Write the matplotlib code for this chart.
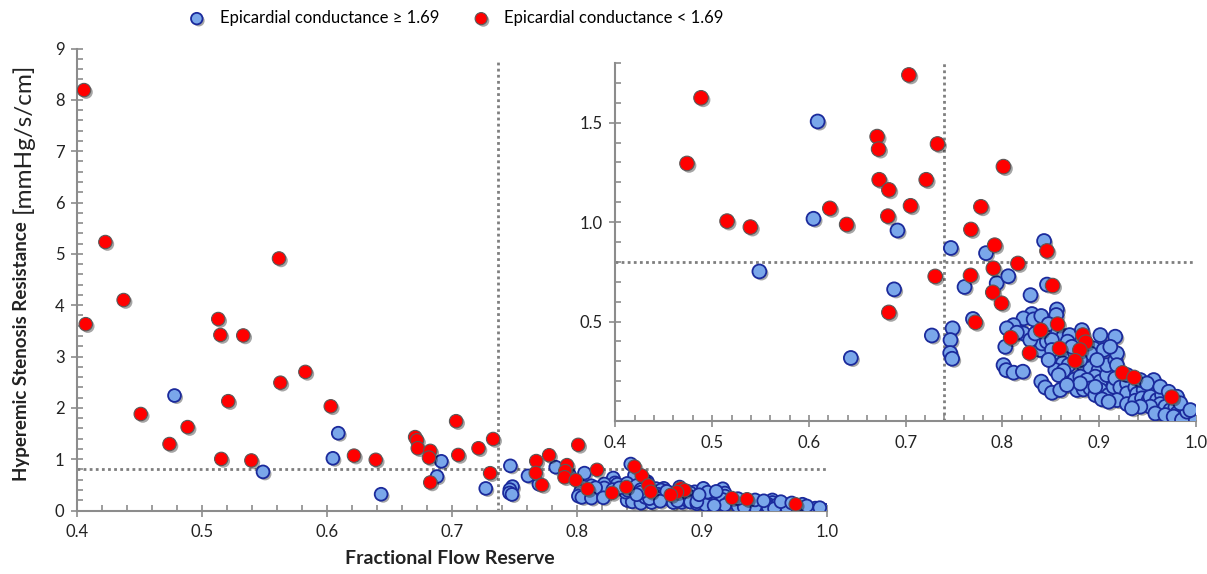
import matplotlib
matplotlib.use('Agg')
import matplotlib.pyplot as plt
import matplotlib.patheffects as pe
from matplotlib.ticker import MultipleLocator, FormatStrFormatter

plt.rcParams['font.family'] = ['Lato', 'DejaVu Sans']

# FFR / HSR values
blue_ffr = [0.478, 0.5488, 0.6047, 0.609, 0.6433, 0.688, 0.6915, 0.727, 0.7467, 0.7484,
            0.7463, 0.746, 0.748, 0.7608, 0.7695, 0.783, 0.794, 0.806, 0.829, 0.846,
            0.843,
            0.8563, 0.8556, 0.8304, 0.8218, 0.8322, 0.8401, 0.8115, 0.8046, 0.8218, 0.8149,
            0.8029, 0.8011, 0.8039, 0.8115, 0.8211, 0.8401, 0.8442, 0.8511, 0.8597, 0.8390,
            0.8408, 0.8459, 0.8477, 0.8570, 0.8632, 0.8694, 0.8673, 0.8597, 0.8649, 0.8625,
            0.8683, 0.8546, 0.8632, 0.8580, 0.8746, 0.8770, 0.8839, 0.8821, 0.8880, 0.8942,
            0.8908, 0.9011, 0.9166, 0.8839, 0.8908, 0.8994, 0.8959, 0.9011, 0.9080, 0.9080,
            0.9166, 0.9183, 0.9183, 0.9011, 0.9097, 0.9149, 0.9166, 0.9218, 0.9287, 0.9287,
            0.9183, 0.9287, 0.9373, 0.9390, 0.9373, 0.9459, 0.9442, 0.9511, 0.9563, 0.9563,
            0.9528, 0.9597, 0.9649, 0.9631, 0.9683, 0.9735, 0.9787, 0.9804, 0.9855, 0.9890,
            0.9942, 0.9983, 0.9528, 0.9425, 0.9338, 0.9580, 0.9683, 0.9769, 0.9855, 0.9907,
            0.8804, 0.8873, 0.8908, 0.8959, 0.9028, 0.9097, 0.8959, 0.8804, 0.8752, 0.8718,
            0.8287, 0.8339, 0.8511, 0.8511, 0.8477, 0.9045, 0.9114, 0.8977, 0.9287, 0.9425,
            0.9494, 0.9631, 0.9718, 0.9804, 0.9838, 0.9942, 0.8804, 0.8666]
blue_hsr = [2.24, 0.752, 1.017, 1.506, 0.317, 0.662, 0.958, 0.430, 0.870, 0.466,
            0.407, 0.342, 0.313, 0.674, 0.513, 0.844, 0.693, 0.728, 0.633, 0.686,
            0.905,
            0.561, 0.533, 0.538, 0.516, 0.511, 0.528, 0.482, 0.466, 0.440, 0.444,
            0.373, 0.281, 0.256, 0.243, 0.248, 0.198, 0.169, 0.142, 0.156, 0.357,
            0.390, 0.399, 0.487, 0.440, 0.427, 0.432, 0.399, 0.340, 0.315, 0.290,
            0.281, 0.256, 0.253, 0.231, 0.209, 0.156, 0.159, 0.457, 0.377, 0.365,
            0.340, 0.432, 0.424, 0.281, 0.265, 0.256, 0.223, 0.198, 0.231, 0.281,
            0.307, 0.340, 0.281, 0.156, 0.131, 0.172, 0.214, 0.169, 0.189, 0.139,
            0.105, 0.085, 0.169, 0.136, 0.102, 0.156, 0.114, 0.105, 0.206, 0.156,
            0.122, 0.105, 0.131, 0.085, 0.072, 0.055, 0.069, 0.038, 0.030, 0.022,
            0.013, 0.005, 0.072, 0.072, 0.064, 0.038, 0.030, 0.022, 0.005, 0.047,
            0.223, 0.206, 0.164, 0.131, 0.109, 0.097, 0.172, 0.307, 0.340, 0.373,
            0.407, 0.440, 0.407, 0.357, 0.307, 0.357, 0.373, 0.307, 0.231, 0.206,
            0.189, 0.172, 0.147, 0.122, 0.089, 0.055, 0.189, 0.181]

red_ffr = [0.4056, 0.407, 0.4227, 0.4373, 0.451, 0.474, 0.4885, 0.513, 0.5147, 0.5154,
           0.521, 0.533, 0.5395, 0.5616, 0.5627, 0.5827, 0.603, 0.6216, 0.639, 0.6705,
           0.672, 0.6726, 0.6826, 0.6816, 0.6826, 0.7033, 0.705, 0.7212, 0.7329, 0.7305,
           0.7674, 0.767, 0.772, 0.7777, 0.801, 0.792, 0.816, 0.7906, 0.790, 0.799,
           0.8518, 0.846, 0.8085, 0.8395, 0.828, 0.857, 0.859, 0.883, 0.886, 0.880,
           0.875, 0.924, 0.936, 0.975]
red_hsr = [8.19, 3.63, 5.23, 4.10, 1.88, 1.295, 1.625, 3.73, 3.42, 1.005,
           2.13, 3.41, 0.975, 4.91, 2.49, 2.70, 2.03, 1.069, 0.988, 1.43,
           1.367, 1.213, 1.162, 1.030, 0.546, 1.740, 1.082, 1.213, 1.393, 0.727,
           0.963, 0.732, 0.496, 1.077, 1.279, 0.884, 0.792, 0.768, 0.647, 0.592,
           0.681, 0.855, 0.419, 0.457, 0.342, 0.487, 0.365, 0.432, 0.396, 0.357,
           0.303, 0.242, 0.219, 0.12]

ffr_cut = 0.74
hsr_cut = 0.8

W, H = 1207, 574
fig = plt.figure(figsize=(W / 100, H / 100), dpi=100)
ax = fig.add_axes([77 / W, 63.5 / H, 750 / W, 462 / H])
inset = fig.add_axes([615.4 / W, 153 / H, 580.6 / W, 358 / H])
inset.patch.set_alpha(0)

shadow = [pe.SimplePatchShadow(offset=(1.5, -1.5), shadow_rgbFace='k', alpha=0.35), pe.Normal()]
axis_grey = '#8c8c8c'
dots = (0, (1, 1.2))


def style_axes(a):
    for side in ['top', 'right']:
        a.spines[side].set_visible(False)
    for side in ['left', 'bottom']:
        a.spines[side].set_color(axis_grey)
        a.spines[side].set_linewidth(1.5)
    a.tick_params(which='major', direction='inout', length=8, width=1.2, color=axis_grey,
                  labelsize=12, labelcolor='#222222')
    a.tick_params(which='minor', direction='in', length=4, width=1.2, color=axis_grey)


def draw_points(a, size):
    b = a.scatter(blue_ffr, blue_hsr, s=size, color='#7aa7ea', edgecolors='#1b2a9c',
                  linewidths=1.3, zorder=3, label='Epicardial conductance \u2265 1.69')
    b.set_path_effects(shadow)
    r = a.scatter(red_ffr, red_hsr, s=size * 1.1, color='#ff0000', edgecolors='#5a5a5a',
                  linewidths=0.8, zorder=4, label='Epicardial conductance < 1.69')
    r.set_path_effects(shadow)
    return b, r


# main axes
style_axes(ax)
blue_pts, red_pts = draw_points(ax, 85)
ax.set_xlim(0.4, 1.0)
ax.set_ylim(0, 9)
ax.xaxis.set_major_locator(MultipleLocator(0.1))
ax.xaxis.set_minor_locator(MultipleLocator(0.02))
ax.yaxis.set_major_locator(MultipleLocator(1))
ax.yaxis.set_minor_locator(MultipleLocator(0.2))
ax.xaxis.set_major_formatter(FormatStrFormatter('%.1f'))
ax.tick_params(axis='x', pad=6)
ax.tick_params(axis='y', pad=5)
ax.axhline(hsr_cut, color='#7f7f7f', ls=dots, lw=2, zorder=2)
ax.plot([0.737, 0.737], [0, 8.8], color='#7f7f7f', ls=dots, lw=2, zorder=2)

# zoomed inset
style_axes(inset)
draw_points(inset, 100)
inset.set_xlim(0.4, 1.0)
inset.set_ylim(0, 1.8)
inset.xaxis.set_major_locator(MultipleLocator(0.1))
inset.xaxis.set_minor_locator(MultipleLocator(0.02))
inset.set_yticks([0.5, 1.0, 1.5])
inset.yaxis.set_minor_locator(MultipleLocator(0.1))
inset.xaxis.set_major_formatter(FormatStrFormatter('%.1f'))
inset.yaxis.set_major_formatter(FormatStrFormatter('%.1f'))
inset.tick_params(axis='x', pad=6)
inset.tick_params(axis='y', pad=5)
inset.axhline(hsr_cut, color='#7f7f7f', ls=dots, lw=2, zorder=2)
inset.axvline(ffr_cut, color='#7f7f7f', ls=dots, lw=2, zorder=2)

# axis titles
fig.text(450 / W, 1 - 559 / H, 'Fractional Flow Reserve', ha='center', va='center',
         fontsize=14, fontweight='bold', color='#222222')
ylab = fig.text(22 / W, 1 - 481 / H, 'Hyperemic Stenosis Resistance', rotation=90,
                rotation_mode='anchor', ha='left', va='center', fontsize=13.5,
                fontweight='bold', color='#222222')
fig.canvas.draw()
bb = ylab.get_window_extent().transformed(fig.transFigure.inverted())
fig.text(22 / W, bb.y1 + 8 / H, '[mmHg/s/cm]', rotation=90, rotation_mode='anchor',
         ha='left', va='center', fontsize=17.5, color='#222222')

fig.legend(handles=[blue_pts, red_pts], loc='center', bbox_to_anchor=(452 / W, 1 - 18 / H),
           ncol=2, frameon=False, fontsize=12, columnspacing=1.5, handletextpad=0.4,
           markerscale=0.9)

fig.savefig('out.png', dpi=100)
